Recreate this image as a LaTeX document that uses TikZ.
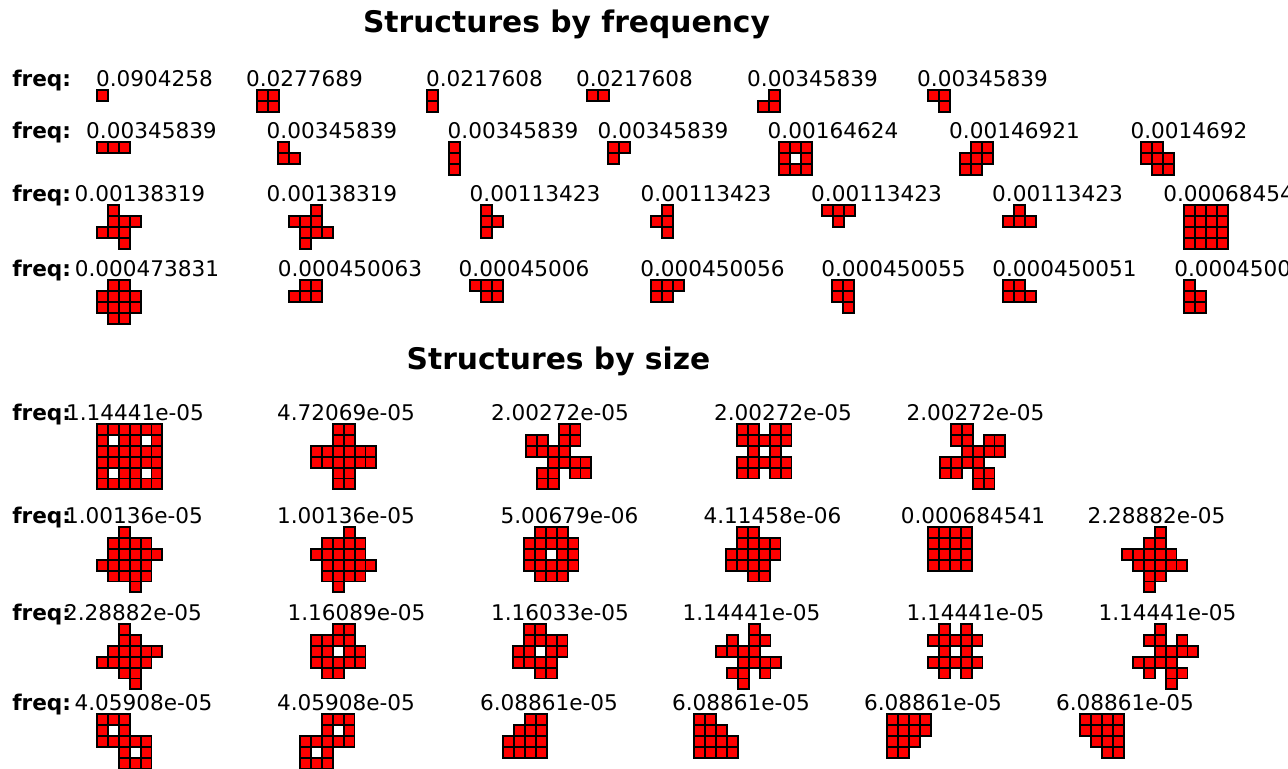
\documentclass[tikz,border=0pt]{standalone}
\usepackage{fontspec}
\setmainfont{DejaVu Sans}
\tikzset{
  cell/.style={fill=red, draw=black, line width=1.4pt},
  lbl/.style={anchor=base, inner sep=0pt, font=\fontsize{16.2}{19}\selectfont},
  lblw/.style={anchor=base west, inner sep=0pt, font=\fontsize{16.2}{19}\selectfont},
  freqlbl/.style={anchor=base west, inner sep=0pt, font=\fontsize{16.2}{19}\selectfont\bfseries},
  ttl/.style={anchor=base, inner sep=0pt, font=\fontsize{22.3}{26}\selectfont\bfseries},
}
\newcommand\csz{10.9}
\newcommand\polyo[3]{\foreach \myr/\rowcells in {#3}{\foreach \myc in \rowcells{\draw[cell] ({#1+\myc*\csz},{#2+\myr*\csz}) rectangle ++(\csz,\csz);}}}
\begin{document}
\begin{tikzpicture}[x=0.75pt,y=-0.75pt]
\useasboundingbox (0,0) rectangle (1288,768);
\fill[white] (0,0) rectangle (1288,768);
\clip (0,0) rectangle (1288,768);
% titles
\node[ttl] (t1) at (566.5,32) {Structures by frequency};
\node[ttl] (t2) at (558.5,369) {Structures by size};
% freq labels
\foreach \yy/\nm in {86/a,138/b,201.5/c,276/d,420/e,523/f,620/g,710/h}{\node[freqlbl] (fq\nm) at (12,\yy) {freq:};}
% ---- frequency row 1
\node[lbl] (l11) at (154.5,86) {0.0904258};
\node[lbl] (l12) at (304.5,86) {0.0277689};
\node[lbl] (l13) at (484.5,86) {0.0217608};
\node[lbl] (l14) at (634.5,86) {0.0217608};
\node[lbl] (l15) at (812.5,86) {0.00345839};
\node[lbl] (l16) at (982.5,86) {0.00345839};
\polyo{97}{90}{0/{0}}
\polyo{257}{90}{0/{0,1},1/{0,1}}
\polyo{427}{90}{0/{0},1/{0}}
\polyo{587}{90}{0/{0,1}}
\polyo{758}{90}{0/{1},1/{0,1}}
\polyo{928}{90}{0/{0,1},1/{1}}
% ---- frequency row 2
\node[lbl] (l21) at (151.5,138) {0.00345839};
\node[lbl] (l22) at (332,138) {0.00345839};
\node[lbl] (l23) at (513,138) {0.00345839};
\node[lbl] (l24) at (663,138) {0.00345839};
\node[lbl] (l25) at (833,138) {0.00164624};
\node[lbl] (l26) at (1014.5,138) {0.00146921};
\node[lbl] (l27) at (1189,138) {0.0014692};
\polyo{97}{142}{0/{0,1,2}}
\polyo{278}{142}{0/{0},1/{0,1}}
\polyo{449}{142}{0/{0},1/{0},2/{0}}
\polyo{608}{142}{0/{0,1},1/{0}}
\polyo{779}{142}{0/{0,1,2},1/{0,2},2/{0,1,2}}
\polyo{960}{142}{0/{1,2},1/{0,1,2},2/{0,1}}
\polyo{1141}{142}{0/{0,1},1/{0,1,2},2/{1,2}}
% ---- frequency row 3
\node[lbl] (l31) at (140,201.5) {0.00138319};
\node[lbl] (l32) at (332,201.5) {0.00138319};
\node[lbl] (l33) at (535,201.5) {0.00113423};
\node[lbl] (l34) at (706,201.5) {0.00113423};
\node[lbl] (l35) at (876.5,201.5) {0.00113423};
\node[lbl] (l36) at (1057.5,201.5) {0.00113423};
\node[lblw] (l37) at (1163,201.5) {0.00068454};
\polyo{97}{205}{0/{1},1/{1,2,3},2/{0,1,2},3/{2}}
\polyo{289}{205}{0/{2},1/{0,1,2},2/{1,2,3},3/{1}}
\polyo{481}{205}{0/{0},1/{0,1},2/{0}}
\polyo{651}{205}{0/{1},1/{0,1},2/{1}}
\polyo{822}{205}{0/{0,1,2},1/{1}}
\polyo{1003}{205}{0/{1},1/{0,1,2}}
\polyo{1184}{205}{0/{0,1,2,3},1/{0,1,2,3},2/{0,1,2,3},3/{0,1,2,3}}
% ---- frequency row 4
\node[lbl] (l41) at (147,276) {0.000473831};
\node[lbl] (l42) at (350,276) {0.000450063};
\node[lbl] (l43) at (524,276) {0.00045006};
\node[lbl] (l44) at (712.5,276) {0.000450056};
\node[lbl] (l45) at (893.5,276) {0.000450055};
\node[lbl] (l46) at (1064.5,276) {0.000450051};
\node[lblw] (l47) at (1174,276) {0.0004500};
\polyo{97}{280}{0/{1,2},1/{0,1,2,3},2/{0,1,2,3},3/{1,2}}
\polyo{289}{280}{0/{1,2},1/{0,1,2}}
\polyo{470}{280}{0/{0,1,2},1/{1,2}}
\polyo{651}{280}{0/{0,1,2},1/{0,1}}
\polyo{832}{280}{0/{0,1},1/{0,1},2/{1}}
\polyo{1003}{280}{0/{0,1},1/{0,1,2}}
\polyo{1184}{280}{0/{0},1/{0,1},2/{0,1}}
% ---- size row 1
\node[lbl] (s11) at (135,420) {1.14441e-05};
\node[lbl] (s12) at (346,420) {4.72069e-05};
\node[lbl] (s13) at (560,420) {2.00272e-05};
\node[lbl] (s14) at (783,420) {2.00272e-05};
\node[lbl] (s15) at (975.5,420) {2.00272e-05};
\polyo{97}{424}{0/{0,1,2,3,4,5},1/{0,2,3,5},2/{0,1,2,3,4,5},3/{0,1,2,3,4,5},4/{0,2,3,5},5/{0,1,2,3,4,5}}
\polyo{311}{424}{0/{2,3},1/{2,3},2/{0,1,2,3,4,5},3/{0,1,2,3,4,5},4/{2,3},5/{2,3}}
\polyo{526}{424}{0/{3,4},1/{0,1,3,4},2/{0,1,2,3},3/{2,3,4,5},4/{1,2,4,5},5/{1,2}}
\polyo{737}{424}{0/{0,1,3,4},1/{0,1,2,3,4},2/{1,3},3/{0,1,2,3,4},4/{0,1,3,4}}
\polyo{940}{424}{0/{1,2},1/{1,2,4,5},2/{2,3,4,5},3/{0,1,2,3},4/{0,1,3,4},5/{3,4}}
% ---- size row 2
\node[lbl] (s21) at (134,523) {1.00136e-05};
\node[lbl] (s22) at (346,523) {1.00136e-05};
\node[lbl] (s23) at (569.5,523) {5.00679e-06};
\node[lbl] (s24) at (772.5,523) {4.11458e-06};
\node[lbl] (s25) at (973,523) {0.000684541};
\node[lbl] (s26) at (1156.5,523) {2.28882e-05};
\polyo{97}{527}{0/{2},1/{1,2,3,4},2/{1,2,3,4,5},3/{0,1,2,3,4},4/{1,2,3,4},5/{3}}
\polyo{311}{527}{0/{3},1/{1,2,3,4},2/{0,1,2,3,4},3/{1,2,3,4,5},4/{1,2,3,4},5/{2}}
\polyo{524}{527}{0/{1,2,3},1/{0,1,2,3,4},2/{0,1,3,4},3/{0,1,2,3,4},4/{1,2,3}}
\polyo{726}{527}{0/{1,2},1/{1,2,3,4},2/{0,1,2,3,4},3/{0,1,2,3},4/{2,3}}
\polyo{928}{527}{0/{0,1,2,3},1/{0,1,2,3},2/{0,1,2,3},3/{0,1,2,3}}
\polyo{1122}{527}{0/{3},1/{2,3},2/{0,1,2,3,4},3/{1,2,3,4,5},4/{2,3},5/{2}}
% ---- size row 3
\node[lbl] (s31) at (133,620) {2.28882e-05};
\node[lbl] (s32) at (356.5,620) {1.16089e-05};
\node[lbl] (s33) at (560,620) {1.16033e-05};
\node[lbl] (s34) at (751.5,620) {1.14441e-05};
\node[lbl] (s35) at (975.5,620) {1.14441e-05};
\node[lbl] (s36) at (1167.5,620) {1.14441e-05};
\polyo{97}{624}{0/{2},1/{2,3},2/{1,2,3,4,5},3/{0,1,2,3,4},4/{2,3},5/{3}}
\polyo{311}{624}{0/{2,3},1/{0,1,2,3},2/{0,1,3,4},3/{0,1,2,3,4},4/{1,2}}
\polyo{513}{624}{0/{1,2},1/{1,2,3,4},2/{0,1,3,4},3/{0,1,2,3},4/{2,3}}
\polyo{716}{624}{0/{3},1/{1,3,4},2/{0,1,2,3},3/{2,3,4,5},4/{1,2,4},5/{2}}
\polyo{928}{624}{0/{1,3},1/{0,1,2,3,4},2/{1,3},3/{0,1,2,3,4},4/{1,3}}
\polyo{1133}{624}{0/{2},1/{1,2,4},2/{2,3,4,5},3/{0,1,2,3},4/{1,3,4},5/{3}}
% ---- size row 4
\node[lbl] (s41) at (143.5,710) {4.05908e-05};
\node[lbl] (s42) at (346,710) {4.05908e-05};
\node[lbl] (s43) at (549,710) {6.08861e-05};
\node[lbl] (s44) at (741,710) {6.08861e-05};
\node[lbl] (s45) at (933,710) {6.08861e-05};
\node[lbl] (s46) at (1125,710) {6.08861e-05};
\polyo{97}{714}{0/{0,1,2},1/{0,2},2/{0,1,2,3,4},3/{2,4},4/{2,3,4}}
\polyo{300}{714}{0/{2,3,4},1/{2,4},2/{0,1,2,3,4},3/{0,2},4/{0,1,2}}
\polyo{503}{714}{0/{2,3},1/{1,2,3},2/{0,1,2,3},3/{0,1,2,3}}
\polyo{694}{714}{0/{0,1},1/{0,1,2},2/{0,1,2,3},3/{0,1,2,3}}
\polyo{887}{714}{0/{0,1,2,3},1/{0,1,2,3},2/{0,1,2},3/{0,1}}
\polyo{1080}{714}{0/{0,1,2,3},1/{0,1,2,3},2/{1,2,3},3/{2,3}}
\end{tikzpicture}
\end{document}
